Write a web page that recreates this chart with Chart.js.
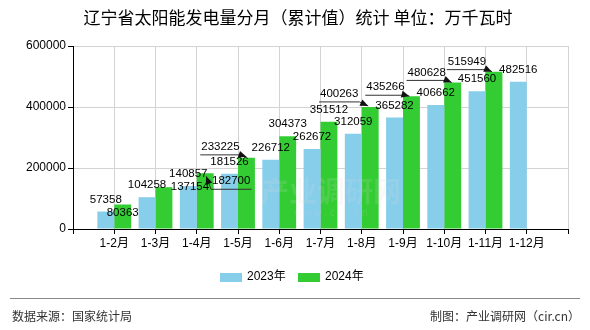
<!DOCTYPE html>
<html>
<head>
<meta charset="utf-8">
<script src="https://cdn.jsdelivr.net/npm/chart.js@4/dist/chart.umd.min.js"></script>
<style>
  html, body { margin: 0; padding: 0; background: #ffffff; }
  #wrap { width: 590px; height: 330px; position: relative; }
</style>
</head>
<body>
<div id="wrap"><canvas id="c" width="590" height="330"></canvas></div>
<script>
// Cumulative monthly solar generation, Liaoning (10k kWh)
const categories = ['1-2月', '1-3月', '1-4月', '1-5月', '1-6月', '1-7月', '1-8月', '1-9月', '1-10月', '1-11月', '1-12月'];
const seriesNames = ['2023年', '2024年'];
const values2023 = [57358, 104258, 140857, 181526, 226712, 262672, 312059, 365282, 406662, 451560, 482516];
const values2024 = [80363, 137154, 182700, 233225, 304373, 351512, 400263, 435266, 480628, 515949, null];
const yTickValues = [0, 200000, 400000, 600000];

const titleText = '辽宁省太阳能发电量分月（累计值）统计 单位：万千瓦时';
const sourceText = '数据来源：国家统计局';
const makerText = '制图：产业调研网（cir.cn）';

const colors = ['#87CEEB', '#33CC33'];

// Value-label placement tweaks for crowded bars: [dx, dy, leader, tipDx, tipDy]
const labelTweaks = [
  {},
  {
    0: [0, 20],
    1: [26, 12],
    2: [26, 20, true, 1, 3],
    3: [-26, 1, true, 0, -1],
    6: [-31, -1, true, -2, -1],
    7: [-26, 3, true, -2, 0],
    8: [-26, 2, true, -1, 0],
    9: [-27, 2, true, -2, 0]
  }
];

// Axis runs one empty slot before and after the months
const axisLabels = [''].concat(categories, ['']);
const pad = arr => [null].concat(arr, [null]);

const cjk = '"Noto Sans CJK SC", "Liberation Sans", sans-serif';
const num = '"Liberation Sans", "Noto Sans CJK SC", sans-serif';

const decorPlugin = {
  id: 'decor',
  afterDatasetsDraw(chart) {
    const ctx = chart.ctx;
    // faint site watermark
    ctx.save();
    ctx.fillStyle = 'rgba(215,215,215,0.16)';
    ctx.font = 'bold 28px ' + cjk;
    ctx.textAlign = 'center';
    ctx.textBaseline = 'middle';
    ctx.fillText('产业调研网', 331, 191);
    ctx.font = '10px ' + num;
    ctx.fillText('w w w . c i r . c n', 331, 213);
    ctx.restore();

    // value labels
    ctx.save();
    ctx.font = '11.5px ' + num;
    ctx.textAlign = 'center';
    ctx.textBaseline = 'middle';
    chart.data.datasets.forEach((ds, di) => {
      const meta = chart.getDatasetMeta(di);
      meta.data.forEach((bar, i) => {
        const v = ds.data[i];
        if (v === null || v === undefined) return;
        const t = labelTweaks[di][i - 1];
        const lx = bar.x + (t ? t[0] : 0);
        const ly = bar.y - 12 + (t ? t[1] : 0);
        const txt = String(v);
        if (t && t[2]) {
          const w = ctx.measureText(txt).width;
          const uy = ly + 8;
          const left = lx - w / 2 - 1, right = lx + w / 2 + 1;
          const tipX = bar.x + t[3], tipY = bar.y + t[4];
          const fromX = Math.abs(tipX - left) < Math.abs(tipX - right) ? left : right;
          ctx.strokeStyle = '#333333';
          ctx.lineWidth = 1;
          ctx.beginPath();
          ctx.moveTo(left, uy);
          ctx.lineTo(right, uy);
          ctx.moveTo(fromX, uy);
          ctx.lineTo(tipX, tipY);
          ctx.stroke();
          const ang = Math.atan2(tipY - uy, tipX - fromX);
          const L = 8, H = 3.5;
          ctx.fillStyle = '#111111';
          ctx.beginPath();
          ctx.moveTo(tipX, tipY);
          ctx.lineTo(tipX - L * Math.cos(ang) + H * Math.sin(ang), tipY - L * Math.sin(ang) - H * Math.cos(ang));
          ctx.lineTo(tipX - L * Math.cos(ang) - H * Math.sin(ang), tipY - L * Math.sin(ang) + H * Math.cos(ang));
          ctx.closePath();
          ctx.fill();
        }
        ctx.fillStyle = '#000000';
        ctx.fillText(txt, lx, ly);
      });
    });
    ctx.restore();
  },
  afterDraw(chart) {
    const ctx = chart.ctx;
    ctx.save();
    // title
    ctx.fillStyle = '#000000';
    ctx.font = '17px ' + cjk;
    ctx.textAlign = 'center';
    ctx.textBaseline = 'middle';
    ctx.fillText(titleText, 298, 18);

    // legend
    ctx.font = '12px ' + num;
    ctx.textAlign = 'left';
    let x = 220;
    chart.data.datasets.forEach((ds, di) => {
      ctx.fillStyle = colors[di];
      ctx.fillRect(x, 273, 22, 9);
      ctx.fillStyle = '#000000';
      ctx.fillText(ds.label, x + 27, 277);
      x += 78;
    });

    // footer rule and credits
    ctx.strokeStyle = '#888888';
    ctx.lineWidth = 1;
    ctx.beginPath();
    ctx.moveTo(10, 298.5);
    ctx.lineTo(580, 298.5);
    ctx.stroke();
    ctx.fillStyle = '#333333';
    ctx.font = '12px ' + cjk;
    ctx.textAlign = 'left';
    ctx.fillText(sourceText, 12, 316);
    ctx.textAlign = 'right';
    ctx.fillText(makerText, 580, 316);
    ctx.restore();
  }
};

new Chart(document.getElementById('c'), {
  type: 'bar',
  data: {
    labels: axisLabels,
    datasets: [
      { label: seriesNames[0], data: pad(values2023), backgroundColor: colors[0] },
      { label: seriesNames[1], data: pad(values2024), backgroundColor: colors[1] }
    ]
  },
  options: {
    responsive: false,
    animation: false,
    devicePixelRatio: 1,
    layout: { padding: { left: 0, right: 22, top: 46, bottom: 0 } },
    datasets: { bar: { barPercentage: 1, categoryPercentage: 0.82 } },
    plugins: {
      legend: { display: false },
      title: { display: false },
      tooltip: { enabled: false }
    },
    scales: {
      x: {
        offset: false,
        grid: { display: true, color: '#d3d3d3', tickColor: '#000000', tickLength: 5, offset: false },
        border: { color: '#000000', width: 1 },
        ticks: { color: '#000000', font: { size: 12, family: num }, padding: 2, maxRotation: 0, autoSkip: false },
        afterFit(scale) { scale.height = 101; }
      },
      y: {
        min: yTickValues[0],
        max: yTickValues[yTickValues.length - 1],
        afterBuildTicks(scale) { scale.ticks = yTickValues.map(v => ({ value: v })); },
        grid: { color: '#d3d3d3', tickColor: '#000000', tickLength: 5 },
        border: { color: '#000000', width: 1 },
        ticks: { color: '#000000', font: { size: 12, family: num }, padding: 2, callback: v => String(v) },
        afterFit(scale) { scale.width = 73; }
      }
    }
  },
  plugins: [decorPlugin]
});
</script>
</body>
</html>
